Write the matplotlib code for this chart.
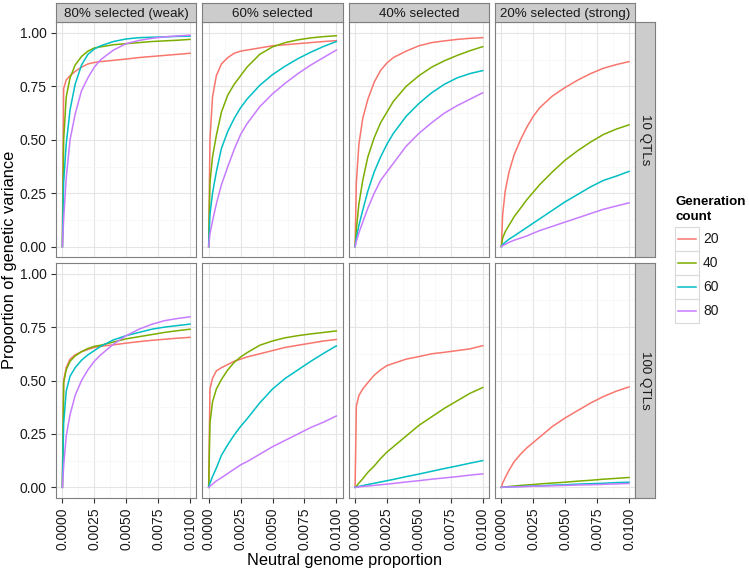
import matplotlib
matplotlib.use('Agg')
import matplotlib.pyplot as plt
from matplotlib.patches import Rectangle
from matplotlib.lines import Line2D

plt.rcParams['font.family'] = ['Liberation Sans', 'DejaVu Sans']

W, H = 749, 573

# Data
x = [0, 0.0001, 0.0003, 0.0006, 0.001, 0.0015, 0.002, 0.0025, 0.003,
     0.004, 0.005, 0.006, 0.007, 0.008, 0.009, 0.01]
generations = ['20', '40', '60', '80']
colors = ['#F8766D', '#7CAE00', '#00BFC4', '#C77CFF']
selection_labels = ['80% selected (weak)', '60% selected', '40% selected', '20% selected (strong)']
qtl_labels = ['10 QTLs', '100 QTLs']

# rows: generation 20, 40, 60, 80
sel80_qtl10 = [
    [0, 0.74, 0.78, 0.80, 0.82, 0.84, 0.855, 0.862, 0.866, 0.872, 0.878, 0.885, 0.89, 0.895, 0.90, 0.905],
    [0, 0.50, 0.70, 0.79, 0.85, 0.89, 0.915, 0.93, 0.935, 0.945, 0.95, 0.955, 0.96, 0.963, 0.966, 0.97],
    [0, 0.30, 0.48, 0.64, 0.76, 0.85, 0.90, 0.925, 0.94, 0.96, 0.972, 0.978, 0.98, 0.982, 0.984, 0.985],
    [0, 0.13, 0.32, 0.50, 0.62, 0.73, 0.79, 0.84, 0.875, 0.92, 0.95, 0.965, 0.975, 0.982, 0.986, 0.99],
]
sel60_qtl10 = [
    [0, 0.50, 0.70, 0.80, 0.855, 0.885, 0.905, 0.915, 0.92, 0.93, 0.94, 0.945, 0.95, 0.955, 0.96, 0.964],
    [0, 0.30, 0.42, 0.52, 0.63, 0.71, 0.76, 0.80, 0.84, 0.90, 0.935, 0.955, 0.968, 0.977, 0.983, 0.987],
    [0, 0.15, 0.25, 0.35, 0.46, 0.54, 0.60, 0.65, 0.69, 0.755, 0.805, 0.845, 0.88, 0.91, 0.937, 0.96],
    [0, 0.06, 0.12, 0.20, 0.29, 0.375, 0.455, 0.525, 0.575, 0.655, 0.715, 0.765, 0.81, 0.85, 0.885, 0.92],
]
sel40_qtl10 = [
    [0, 0.30, 0.48, 0.60, 0.69, 0.77, 0.825, 0.86, 0.885, 0.915, 0.94, 0.955, 0.963, 0.97, 0.975, 0.978],
    [0, 0.08, 0.20, 0.31, 0.42, 0.51, 0.58, 0.63, 0.68, 0.75, 0.80, 0.84, 0.87, 0.895, 0.917, 0.936],
    [0, 0.04, 0.10, 0.17, 0.26, 0.35, 0.42, 0.48, 0.53, 0.61, 0.67, 0.72, 0.76, 0.79, 0.81, 0.824],
    [0, 0.025, 0.065, 0.115, 0.18, 0.25, 0.31, 0.35, 0.39, 0.47, 0.53, 0.58, 0.625, 0.66, 0.69, 0.72],
]
sel20_qtl10 = [
    [0, 0.15, 0.26, 0.35, 0.43, 0.50, 0.56, 0.61, 0.65, 0.705, 0.745, 0.78, 0.81, 0.835, 0.852, 0.866],
    [0, 0.04, 0.07, 0.10, 0.14, 0.18, 0.22, 0.255, 0.29, 0.35, 0.405, 0.45, 0.49, 0.525, 0.55, 0.57],
    [0, 0.01, 0.02, 0.035, 0.05, 0.07, 0.09, 0.11, 0.13, 0.17, 0.21, 0.245, 0.28, 0.31, 0.33, 0.352],
    [0, 0.005, 0.01, 0.02, 0.03, 0.04, 0.05, 0.063, 0.075, 0.095, 0.115, 0.135, 0.155, 0.175, 0.19, 0.205],
]
sel80_qtl100 = [
    [0, 0.50, 0.56, 0.60, 0.62, 0.635, 0.645, 0.655, 0.66, 0.667, 0.675, 0.682, 0.688, 0.693, 0.698, 0.702],
    [0, 0.49, 0.55, 0.59, 0.615, 0.635, 0.65, 0.66, 0.665, 0.68, 0.695, 0.705, 0.715, 0.725, 0.733, 0.74],
    [0, 0.30, 0.45, 0.52, 0.56, 0.595, 0.62, 0.64, 0.66, 0.69, 0.71, 0.725, 0.74, 0.75, 0.757, 0.764],
    [0, 0.10, 0.24, 0.34, 0.43, 0.50, 0.55, 0.59, 0.62, 0.67, 0.71, 0.74, 0.763, 0.78, 0.79, 0.798],
]
sel60_qtl100 = [
    [0, 0.46, 0.51, 0.545, 0.56, 0.575, 0.59, 0.60, 0.61, 0.625, 0.64, 0.655, 0.665, 0.675, 0.685, 0.692],
    [0, 0.30, 0.40, 0.46, 0.505, 0.55, 0.585, 0.61, 0.63, 0.665, 0.685, 0.70, 0.71, 0.718, 0.725, 0.732],
    [0, 0.02, 0.05, 0.09, 0.15, 0.20, 0.245, 0.285, 0.32, 0.395, 0.46, 0.51, 0.55, 0.59, 0.627, 0.662],
    [0, 0.005, 0.015, 0.03, 0.045, 0.065, 0.085, 0.105, 0.12, 0.155, 0.19, 0.22, 0.25, 0.28, 0.305, 0.334],
]
sel40_qtl100 = [
    [0, 0.38, 0.43, 0.46, 0.49, 0.525, 0.55, 0.57, 0.58, 0.60, 0.612, 0.625, 0.632, 0.64, 0.648, 0.663],
    [0, 0.005, 0.02, 0.04, 0.07, 0.10, 0.135, 0.165, 0.19, 0.24, 0.29, 0.33, 0.37, 0.405, 0.44, 0.467],
    [0, 0.001, 0.004, 0.008, 0.013, 0.019, 0.025, 0.031, 0.037, 0.05, 0.062, 0.075, 0.088, 0.10, 0.113, 0.125],
    [0, 0.0005, 0.002, 0.004, 0.006, 0.009, 0.012, 0.015, 0.018, 0.025, 0.031, 0.038, 0.044, 0.05, 0.057, 0.063],
]
sel20_qtl100 = [
    [0, 0.02, 0.045, 0.08, 0.12, 0.155, 0.185, 0.21, 0.235, 0.285, 0.325, 0.36, 0.395, 0.425, 0.45, 0.47],
    [0, 0.0005, 0.002, 0.004, 0.006, 0.009, 0.011, 0.013, 0.016, 0.02, 0.024, 0.029, 0.033, 0.038, 0.042, 0.046],
    [0, 0.0002, 0.001, 0.002, 0.003, 0.004, 0.005, 0.006, 0.007, 0.01, 0.012, 0.015, 0.017, 0.019, 0.022, 0.024],
    [0, 0.0002, 0.001, 0.0015, 0.002, 0.003, 0.004, 0.005, 0.006, 0.007, 0.009, 0.011, 0.012, 0.014, 0.016, 0.018],
]

panels = [
    [sel80_qtl10, sel60_qtl10, sel40_qtl10, sel20_qtl10],
    [sel80_qtl100, sel60_qtl100, sel40_qtl100, sel20_qtl100],
]

x_major = [0, 0.0025, 0.005, 0.0075, 0.01]
x_minor = [0.00125, 0.00375, 0.00625, 0.00875]
y_major = [0, 0.25, 0.5, 0.75, 1.0]
y_minor = [0.125, 0.375, 0.625, 0.875]

BORDER = '#7f7f7f'
STRIP = '#cccccc'
TXT = '#1a1a1a'


def rect(left, top, right, bottom):
    return [left / W, 1 - bottom / H, (right - left) / W, (bottom - top) / H]


fig = plt.figure(figsize=(W / 100, H / 100), dpi=100)

col_left = [56, 202.3, 348.7, 495]
pw = 140.4
row_top = [22.3, 263]
ph = 235

for r in range(2):
    for c in range(4):
        l, t = col_left[c], row_top[r]
        ax = fig.add_axes(rect(l, t, l + pw, t + ph))
        ax.set_axisbelow(True)
        for g, ys in enumerate(panels[r][c]):
            ax.plot(x, ys, color=colors[g], lw=1.1, solid_joinstyle='round')
        ax.set_xlim(-0.0005, 0.0105)
        ax.set_ylim(-0.05, 1.05)
        ax.set_xticks(x_major)
        ax.set_xticks(x_minor, minor=True)
        ax.set_yticks(y_major)
        ax.set_yticks(y_minor, minor=True)
        ax.grid(which='major', color='#e5e5e5', lw=0.8)
        ax.grid(which='minor', color='#f5f5f5', lw=0.5)
        for s in ax.spines.values():
            s.set_color(BORDER)
            s.set_linewidth(0.8)
        ax.tick_params(which='minor', length=0)
        ax.tick_params(which='major', length=3.6, width=0.8, color='#333333',
                       labelsize=10, labelcolor=TXT, pad=3.2)
        if c == 0:
            ax.set_yticklabels(['%.2f' % v for v in y_major])
        else:
            ax.tick_params(axis='y', length=0, labelleft=False)
        if r == 1:
            ax.set_xticklabels(['%.4f' % v for v in x_major], rotation=90)
        else:
            ax.tick_params(axis='x', length=0, labelbottom=False)

# top strips
for c in range(4):
    l = col_left[c]
    sax = fig.add_axes(rect(l, 3, l + pw, row_top[0]))
    sax.set_facecolor(STRIP)
    sax.set_xticks([])
    sax.set_yticks([])
    for s in sax.spines.values():
        s.set_color(BORDER)
        s.set_linewidth(0.8)
    sax.text(0.5, 0.45, selection_labels[c], ha='center', va='center',
             fontsize=9.6, color=TXT, transform=sax.transAxes)

# right strips
for r in range(2):
    t = row_top[r]
    sax = fig.add_axes(rect(col_left[3] + pw, t, 655, t + ph))
    sax.set_facecolor(STRIP)
    sax.set_xticks([])
    sax.set_yticks([])
    for s in sax.spines.values():
        s.set_color(BORDER)
        s.set_linewidth(0.8)
    sax.text(0.5, 0.5, qtl_labels[r], ha='center', va='center', rotation=-90,
             fontsize=9.6, color=TXT, transform=sax.transAxes)

# axis titles
fig.text(345 / W, 1 - 560 / H, 'Neutral genome proportion', ha='center', va='center',
         fontsize=11.8, color='black')
fig.text(10 / W, 1 - 260 / H, 'Proportion of genetic variance', ha='center', va='center',
         rotation=90, fontsize=11.8, color='black')

# legend
fig.text(675 / W, 1 - 202 / H, 'Generation', ha='left', va='center',
         fontsize=9.6, fontweight='bold', color='black')
fig.text(675 / W, 1 - 217 / H, 'count', ha='left', va='center',
         fontsize=9.6, fontweight='bold', color='black')
key_top = 227
key_h = 24
for g, gen in enumerate(generations):
    top = key_top + g * key_h
    fig.patches.append(Rectangle((675 / W, 1 - (top + key_h) / H), 24 / W, key_h / H,
                                 transform=fig.transFigure, facecolor='white',
                                 edgecolor='#d9d9d9', lw=0.8))
    yc = 1 - (top + key_h / 2) / H
    fig.lines.append(Line2D([678 / W, 696 / W], [yc, yc], transform=fig.transFigure,
                            color=colors[g], lw=1.1))
    fig.text(703 / W, yc, gen, ha='left', va='center', fontsize=10, color=TXT)

fig.savefig('out.png', dpi=100)
